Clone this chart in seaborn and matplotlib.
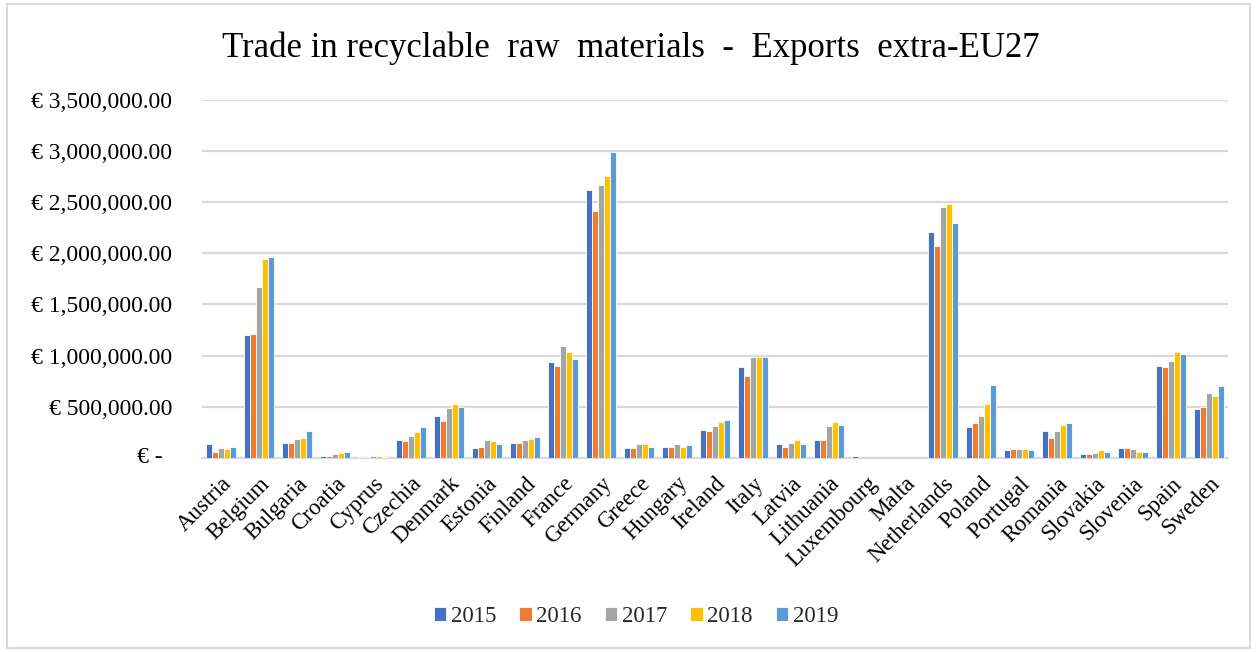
import matplotlib
matplotlib.use("Agg")
import matplotlib.pyplot as plt
import seaborn as sns
import pandas as pd
from matplotlib.patches import Rectangle
from matplotlib.ticker import FixedLocator, FuncFormatter

countries = ["Austria", "Belgium", "Bulgaria", "Croatia", "Cyprus", "Czechia", "Denmark",
             "Estonia", "Finland", "France", "Germany", "Greece", "Hungary", "Ireland",
             "Italy", "Latvia", "Lithuania", "Luxembourg", "Malta", "Netherlands", "Poland",
             "Portugal", "Romania", "Slovakia", "Slovenia", "Spain", "Sweden"]
years = ["2015", "2016", "2017", "2018", "2019"]

v2015 = [134000, 1200000, 147000, 20000, 3000, 173000, 411000, 95000, 147000, 936000, 2618000,
         95000, 108000, 274000, 887000, 134000, 173000, 20000, 0, 2204000, 297000, 72000,
         261000, 33000, 95000, 900000, 473000]
v2016 = [59000, 1213000, 147000, 20000, 3000, 160000, 359000, 108000, 147000, 897000, 2416000,
         95000, 108000, 261000, 799000, 108000, 173000, 0, 0, 2067000, 336000, 85000,
         196000, 33000, 95000, 887000, 499000]
v2017 = [95000, 1666000, 186000, 33000, 20000, 209000, 486000, 173000, 173000, 1089000, 2667000,
         134000, 134000, 310000, 988000, 147000, 310000, 0, 0, 2455000, 411000, 85000,
         261000, 46000, 85000, 949000, 636000]
v2018 = [82000, 1940000, 196000, 46000, 20000, 248000, 525000, 160000, 186000, 1037000, 2755000,
         134000, 108000, 349000, 988000, 173000, 349000, 0, 0, 2481000, 525000, 85000,
         323000, 72000, 59000, 1037000, 600000]
v2019 = [108000, 1966000, 261000, 59000, 3000, 297000, 499000, 134000, 199000, 962000, 2996000,
         108000, 121000, 372000, 988000, 134000, 323000, 0, 0, 2292000, 711000, 72000,
         336000, 59000, 59000, 1011000, 701000]

yticks = [0, 500000, 1000000, 1500000, 2000000, 2500000, 3000000, 3500000]
colors = ["#4472C4", "#ED7D31", "#A5A5A5", "#FFC000", "#5B9BD5"]

rows = []
for y, vals in zip(years, [v2015, v2016, v2017, v2018, v2019]):
    for c, v in zip(countries, vals):
        rows.append({"Country": c, "Year": y, "Value": v})
df = pd.DataFrame(rows)

sns.set_theme(style="white")
plt.rcParams["font.family"] = ["Liberation Serif", "DejaVu Serif"]

fig = plt.figure(figsize=(12.57, 6.52), dpi=100)
ax = fig.add_axes([202 / 1257, 1 - 457.7 / 652, (1228 - 202) / 1257, (457.7 - 100) / 652])

sns.barplot(data=df, x="Country", y="Value", hue="Year", hue_order=years,
            palette=colors, saturation=1, width=0.78, edgecolor="white", linewidth=0.6,
            errorbar=None, ax=ax, zorder=3)

ax.set_ylim(0, 3500000)
ax.set_xlim(-0.5, len(countries) - 0.5)
ax.yaxis.set_major_locator(FixedLocator(yticks))

def fmt(v, pos):
    if v == 0:
        return ""
    return "€ {:,.2f}".format(v)

ax.yaxis.set_major_formatter(FuncFormatter(fmt))
ax.grid(axis="y", color="#D9D9D9", linewidth=1.6, zorder=0)
ax.set_axisbelow(True)
for s in ["top", "right", "left"]:
    ax.spines[s].set_visible(False)
ax.spines["bottom"].set_color("#D9D9D9")
ax.spines["bottom"].set_linewidth(1.6)
ax.tick_params(axis="y", length=0, pad=21.5, labelsize=17, labelcolor="black")
ax.tick_params(axis="x", length=0, pad=11, labelsize=16.5, labelcolor="black")
ax.set_xticks(range(len(countries)))
ax.set_xticklabels(countries, rotation=45, ha="right", rotation_mode="anchor")
ax.set_xlabel("")
ax.set_ylabel("")

# zero label in accounting style ("€ -" offset from the right edge)
ax.text(-39 / 1026, 0, "€ -", transform=ax.get_yaxis_transform(), ha="right", va="center",
        fontsize=17, color="black")

fig.text(0.502, 1 - 48 / 652, "Trade in recyclable  raw  materials  -  Exports  extra-EU27",
         ha="center", va="center", fontsize=25, color="black")

handles, labels = ax.get_legend_handles_labels()
ax.legend(handles, labels, loc="center", bbox_to_anchor=(636 / 1257, 1 - 617 / 652),
          bbox_transform=fig.transFigure, ncol=5, frameon=False, fontsize=16.5,
          handlelength=0.55, handleheight=0.55, handletextpad=0.2, columnspacing=1.0)

fig.add_artist(Rectangle((7 / 1257, 4 / 652), 1243 / 1257, 644 / 652,
                         transform=fig.transFigure, fill=False,
                         edgecolor="#D9D9D9", linewidth=1.5))

fig.savefig("out.png", dpi=100)
